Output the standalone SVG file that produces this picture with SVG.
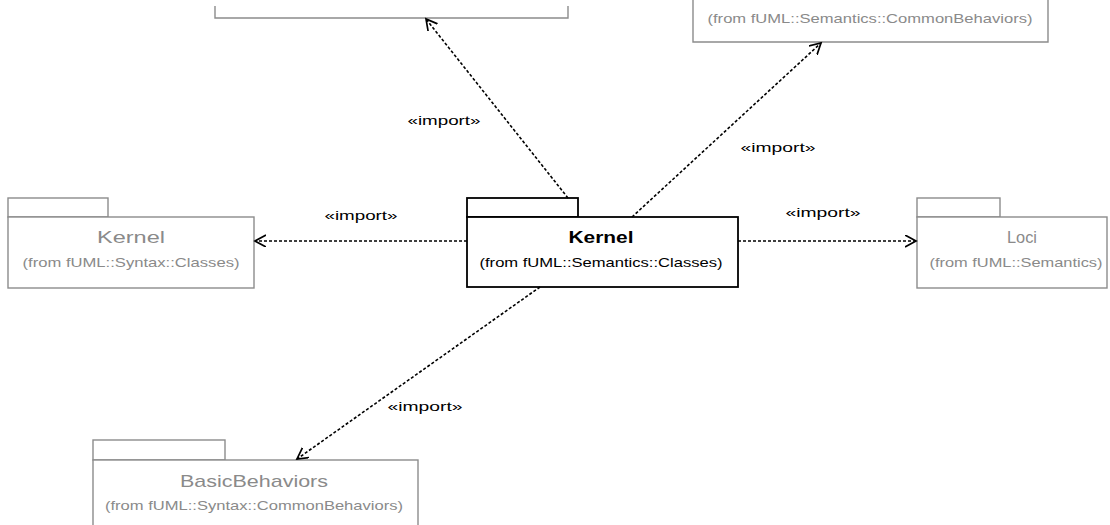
<svg xmlns="http://www.w3.org/2000/svg" width="1110" height="525" viewBox="0 0 1110 525">
<style>
text{font-family:"Liberation Sans",Arial,sans-serif}
.pk{fill:#fff;stroke:#8c8c8c;stroke-width:1.4}
.pkc{fill:#fff;stroke:#000;stroke-width:1.8}
.nm{font-size:17px;fill:#8a8a8a;text-anchor:middle}
.fr{font-size:13px;fill:#8a8a8a;text-anchor:middle}
.nmc{font-size:17px;fill:#000;font-weight:bold;text-anchor:middle}
.frc{font-size:13px;fill:#000;text-anchor:middle}
.cn{fill:none;stroke:#000;stroke-width:1.6;stroke-dasharray:3 2}
.lb{font-size:13px;fill:#000;text-anchor:middle}
</style>
<defs>
<marker id="arr" markerWidth="14" markerHeight="14" refX="11" refY="6" orient="auto" markerUnits="userSpaceOnUse">
<path d="M0,0 L11,6 L0,12" fill="none" stroke="#000" stroke-width="1.7"/>
</marker>
</defs>
<g id="pkg-top-left">
<path class="pk" d="M215,6 V18 H568 V6"/>
</g>
<g id="pkg-commonbehaviors">
<path class="pk" d="M693,0 V42 H1048 V0"/>
<text class="fr" x="870" y="23" textLength="325" lengthAdjust="spacingAndGlyphs">(from fUML::Semantics::CommonBehaviors)</text>
</g>
<g id="pkg-kernel-syntax">
<rect class="pk" x="8" y="198" width="100" height="19"/>
<rect class="pk" x="8" y="217" width="246" height="71"/>
<text class="nm" x="131" y="243" textLength="68" lengthAdjust="spacingAndGlyphs">Kernel</text>
<text class="fr" x="131" y="267" textLength="217" lengthAdjust="spacingAndGlyphs">(from fUML::Syntax::Classes)</text>
</g>
<g id="pkg-kernel-semantics">
<rect class="pkc" x="467" y="198" width="111" height="19"/>
<rect class="pkc" x="467" y="217" width="271" height="70"/>
<text class="nmc" x="601" y="243" textLength="65" lengthAdjust="spacingAndGlyphs">Kernel</text>
<text class="frc" x="601" y="267" textLength="243" lengthAdjust="spacingAndGlyphs">(from fUML::Semantics::Classes)</text>
</g>
<g id="pkg-loci">
<rect class="pk" x="917" y="198" width="83" height="19"/>
<rect class="pk" x="917" y="217" width="190" height="71"/>
<text class="nm" x="1022" y="243" textLength="30" lengthAdjust="spacingAndGlyphs">Loci</text>
<text class="fr" x="1016" y="267" textLength="173" lengthAdjust="spacingAndGlyphs">(from fUML::Semantics)</text>
</g>
<g id="pkg-basicbehaviors">
<rect class="pk" x="93" y="440" width="132" height="20"/>
<rect class="pk" x="93" y="460" width="325" height="70"/>
<text class="nm" x="254" y="487" textLength="148" lengthAdjust="spacingAndGlyphs">BasicBehaviors</text>
<text class="fr" x="254" y="510" textLength="298" lengthAdjust="spacingAndGlyphs">(from fUML::Syntax::CommonBehaviors)</text>
</g>
<g id="connectors">
<line class="cn" x1="467" y1="241" x2="255" y2="241" marker-end="url(#arr)"/>
<line class="cn" x1="738" y1="241" x2="916" y2="241" marker-end="url(#arr)"/>
<line class="cn" x1="568" y1="198" x2="426" y2="19" marker-end="url(#arr)"/>
<line class="cn" x1="632" y1="217" x2="821" y2="43" marker-end="url(#arr)"/>
<line class="cn" x1="540" y1="287" x2="297" y2="459" marker-end="url(#arr)"/>
<text class="lb" x="361" y="220" textLength="73" lengthAdjust="spacingAndGlyphs">«import»</text>
<text class="lb" x="823" y="217" textLength="75" lengthAdjust="spacingAndGlyphs">«import»</text>
<text class="lb" x="444" y="125" textLength="73" lengthAdjust="spacingAndGlyphs">«import»</text>
<text class="lb" x="778" y="152" textLength="75" lengthAdjust="spacingAndGlyphs">«import»</text>
<text class="lb" x="425" y="411" textLength="75" lengthAdjust="spacingAndGlyphs">«import»</text>
</g>
</svg>
